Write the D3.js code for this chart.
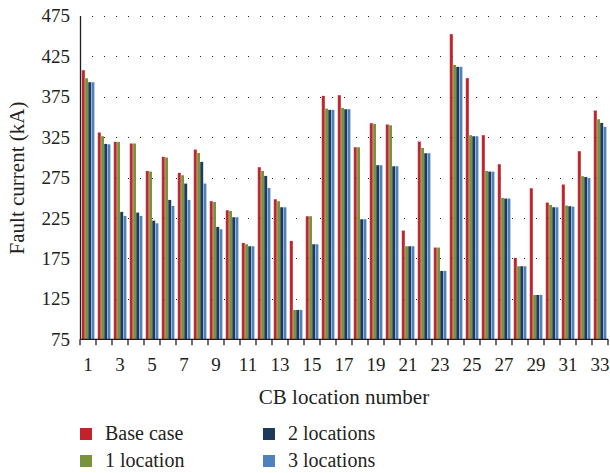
<!DOCTYPE html>
<meta charset="utf-8">
<style>
    body { margin: 0; background: #fff; }
    svg text { font-family: "Liberation Serif", "Times New Roman", serif; fill: #231f20; }
</style>
<svg width="610" height="473"></svg>
<script src="https://d3js.org/d3.v7.min.js"></script>
<script>

    var categories = d3.range(1, 34);
    var seriesNames = ["Base case", "1 location", "2 locations", "3 locations"];
    var seriesColors = ["#c0232b", "#77933c", "#1f3b5b", "#4f81bd"];

    var baseCase = [407.6, 330.6, 319, 317, 283, 300.5, 280.7, 309.5, 245.7, 234.5, 194.1,
        287.7, 248.1, 196.6, 227.1, 375.9, 376.7, 312.4, 342.1, 340.5, 209.4, 319.4,
        188.4, 452.2, 397.8, 327.3, 291.4, 175.6, 261.7, 244, 266.3, 307.5, 357.8];
    var oneLocation = [397.7, 326, 319, 317, 282.3, 299.7, 277.8, 305.4, 244.8, 233.7, 192.5,
        283.2, 245.7, 111.3, 227.1, 360.2, 361, 312.4, 341.3, 339.6, 190, 311.6,
        188.4, 414.2, 327.3, 283.2, 249.8, 165.3, 129.8, 241.1, 240.3, 276.6, 347];
    var twoLocations = [392.8, 316.5, 232.5, 231.6, 221.7, 247.3, 267.5, 294.3, 213.9, 225.9, 190,
        277, 238.2, 111.3, 192.5, 358.6, 359.4, 223.4, 290.2, 288.9, 190, 305,
        159.5, 411.8, 326, 282.3, 249, 165.3, 129.8, 238.2, 239.5, 275.7, 342.5];
    var threeLocations = [392.8, 316, 227.5, 227.5, 218.4, 239.9, 247.3, 267.5, 211, 225.9, 190,
        262.1, 238.2, 111.3, 192.5, 358.6, 359.4, 223.4, 290.2, 288.9, 190, 305,
        159.5, 411.8, 326, 282.3, 249, 165.3, 129.8, 238.2, 239, 274.5, 337.6];
    var yTicks = [75, 125, 175, 225, 275, 325, 375, 425, 475];

    var series = [baseCase, oneLocation, twoLocations, threeLocations];

    var svg = d3.select("svg"),
        plotLeft = 80, plotRight = 608, plotTop = 15.7, plotBottom = 339.3;

    var x = d3.scaleBand()
        .domain(categories)
        .range([plotLeft, plotRight])
        .paddingInner(0.2)
        .paddingOuter(0.1);

    var xs = d3.scaleBand()
        .domain(d3.range(series.length))
        .range([0, x.bandwidth()]);

    var y = d3.scaleLinear()
        .domain([75, 475])
        .range([plotBottom, plotTop]);

    // gradients give the bars their light left edge
    var defs = svg.append("defs");
    seriesColors.forEach(function (c, i) {
        var g = defs.append("linearGradient")
            .attr("id", "grad" + i)
            .attr("x1", "0").attr("x2", "1").attr("y1", "0").attr("y2", "0");
        g.append("stop").attr("offset", "0").attr("stop-color", d3.interpolateRgb(c, "#fff")(0.45));
        g.append("stop").attr("offset", "0.3").attr("stop-color", c);
        g.append("stop").attr("offset", "1").attr("stop-color", c);
    });

    // dotted grid lines
    svg.append("g")
        .selectAll("line")
        .data(yTicks.slice(1))
        .enter().append("line")
        .attr("x1", plotLeft)
        .attr("x2", plotRight)
        .attr("y1", function (d) { return Math.round(y(d)) + 0.5; })
        .attr("y2", function (d) { return Math.round(y(d)) + 0.5; })
        .attr("stroke", "#222")
        .attr("stroke-width", 1)
        .attr("stroke-dasharray", "1,11");

    // bars
    var groups = svg.append("g")
        .selectAll("g")
        .data(categories)
        .enter().append("g")
        .attr("transform", function (d) { return "translate(" + x(d) + ",0)"; });

    groups.selectAll("rect")
        .data(function (d, i) {
            return series.map(function (s, k) { return {k: k, v: s[i]}; });
        })
        .enter().append("rect")
        .attr("x", function (d) { return xs(d.k); })
        .attr("width", xs.bandwidth())
        .attr("y", function (d) { return y(d.v); })
        .attr("height", function (d) { return y(75) - y(d.v); })
        .attr("fill", function (d) { return "url(#grad" + d.k + ")"; });

    // y axis
    var yAxis = svg.append("g")
        .attr("transform", "translate(" + plotLeft + ",0)")
        .call(d3.axisLeft(y).tickValues(yTicks).tickSize(0).tickPadding(10));
    yAxis.select(".domain").attr("stroke", "#231f20").attr("stroke-width", 1.3);
    yAxis.selectAll("text")
        .style("font-size", "19px")
        .style("font-family", "Liberation Serif, serif")
        .attr("fill", "#231f20");

    // x axis: ticks on category boundaries, labels on odd categories
    var xAxis = svg.append("g")
        .attr("transform", "translate(0," + plotBottom + ")");
    xAxis.append("line")
        .attr("x1", plotLeft).attr("x2", plotRight)
        .attr("stroke", "#231f20").attr("stroke-width", 1.3);
    xAxis.selectAll(".tk")
        .data(categories.concat([34]))
        .enter().append("line")
        .attr("class", "tk")
        .attr("x1", function (d) { return d <= 33 ? x(d) - x.step() * 0.1 : plotRight; })
        .attr("x2", function (d) { return d <= 33 ? x(d) - x.step() * 0.1 : plotRight; })
        .attr("y1", 0).attr("y2", 6)
        .attr("stroke", "#231f20").attr("stroke-width", 1.3);
    xAxis.selectAll(".lb")
        .data(categories.filter(function (d) { return d % 2 === 1; }))
        .enter().append("text")
        .attr("class", "lb")
        .attr("x", function (d) { return x(d) + x.bandwidth() / 2; })
        .attr("y", 32)
        .attr("text-anchor", "middle")
        .style("font-size", "19px")
        .text(function (d) { return d; });

    // axis titles
    svg.append("text")
        .attr("x", 344)
        .attr("y", 404)
        .attr("text-anchor", "middle")
        .style("font-size", "21px")
        .text("CB location number");

    svg.append("text")
        .attr("transform", "translate(24,178) rotate(-90)")
        .attr("text-anchor", "middle")
        .style("font-size", "21px")
        .text("Fault current (kA)");

    // legend
    var legendPos = [[80, 434], [80, 461], [263, 434], [263, 461]];
    var legend = svg.append("g")
        .selectAll("g")
        .data(seriesNames)
        .enter().append("g")
        .attr("transform", function (d, i) {
            return "translate(" + legendPos[i][0] + "," + legendPos[i][1] + ")";
        });
    legend.append("rect")
        .attr("x", 0).attr("y", -6)
        .attr("width", 12).attr("height", 12)
        .attr("fill", function (d, i) { return seriesColors[i]; });
    legend.append("text")
        .attr("x", 25)
        .attr("y", 6)
        .style("font-size", "20px")
        .text(function (d) { return d; });
</script>
